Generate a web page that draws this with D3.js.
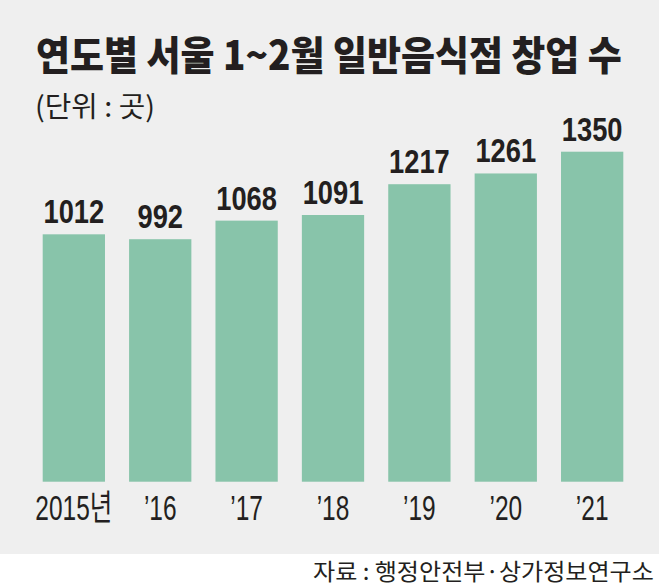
<!DOCTYPE html>
<html>
<head>
<meta charset="utf-8">
<script src="https://cdn.jsdelivr.net/npm/d3@7"></script>
<style>
  html, body { margin: 0; padding: 0; background: #ffffff; }
  svg { display: block; }
</style>
</head>
<body>
<div id="chart"></div>
<script>
const years = ['2015년', '’16', '’17', '’18', '’19', '’20', '’21'];
const counts = [1012, 992, 1068, 1091, 1217, 1261, 1350];
const titleText = '연도별 서울 1~2월 일반음식점 창업 수';
const unitText = '(단위 : 곳)';
const sourceText = '자료 : 행정안전부·상가정보연구소';

const W = 659, H = 587;
const panelH = 554;
const ink = '#231f20';

const svg = d3.select('#chart')
  .append('svg')
  .attr('width', W)
  .attr('height', H);

// gray panel
svg.append('rect')
  .attr('x', 0).attr('y', 0)
  .attr('width', W).attr('height', panelH)
  .attr('fill', '#efefef');

const x = d3.scaleBand()
  .domain(years)
  .range([30.6, 635.4])
  .paddingInner(0.279)
  .paddingOuter(0.14);

const y = d3.scaleLinear()
  .domain([0, 1350])
  .range([481.7, 151.7]);

const data = years.map((yr, i) => ({ year: yr, value: counts[i] }));

svg.selectAll('rect.bar')
  .data(data)
  .enter()
  .append('rect')
  .attr('class', 'bar')
  .attr('x', (d) => x(d.year))
  .attr('y', (d) => y(d.value))
  .attr('width', x.bandwidth())
  .attr('height', (d) => y(0) - y(d.value))
  .attr('fill', '#88c4aa');

// value labels (condensed bold)
svg.selectAll('g.val')
  .data(data)
  .enter()
  .append('g')
  .attr('class', 'val')
  .attr('transform', (d) =>
    `translate(${x(d.year) + x.bandwidth() / 2},${y(d.value) - 11}) scale(0.84,1)`)
  .append('text')
  .attr('text-anchor', 'middle')
  .style('font-family', '"Liberation Sans", Arial, sans-serif')
  .style('font-weight', 'bold')
  .style('font-size', '32.5px')
  .style('fill', ink)
  .text((d) => d.value);

// category labels (light condensed)
svg.selectAll('g.cat')
  .data(data)
  .enter()
  .append('g')
  .attr('class', 'cat')
  .attr('transform', (d) =>
    `translate(${x(d.year) + x.bandwidth() / 2},520) scale(0.7,1)`)
  .append('text')
  .attr('text-anchor', 'middle')
  .style('font-family', '"Liberation Sans", "Noto Sans CJK KR", sans-serif')
  .style('font-weight', '400')
  .style('font-size', '35px')
  .style('fill', ink)
  .text((d) => d.year);

// text squeezed horizontally to a target width
function fittedText(str, x0, y0, width, size, weight) {
  const g = svg.append('g');
  const t = g.append('text')
    .style('font-family', '"Noto Sans CJK KR", sans-serif')
    .style('font-weight', weight)
    .style('font-size', size + 'px')
    .style('fill', ink)
    .text(str);
  const natural = t.node().getComputedTextLength();
  g.attr('transform', `translate(${x0},${y0}) scale(${width / natural},1)`);
}

fittedText(titleText, 36, 70, 586, 40, 900);
fittedText(unitText, 35, 117, 120, 28, 400);
fittedText(sourceText, 313, 580, 341, 23, 400);
</script>
</body>
</html>
